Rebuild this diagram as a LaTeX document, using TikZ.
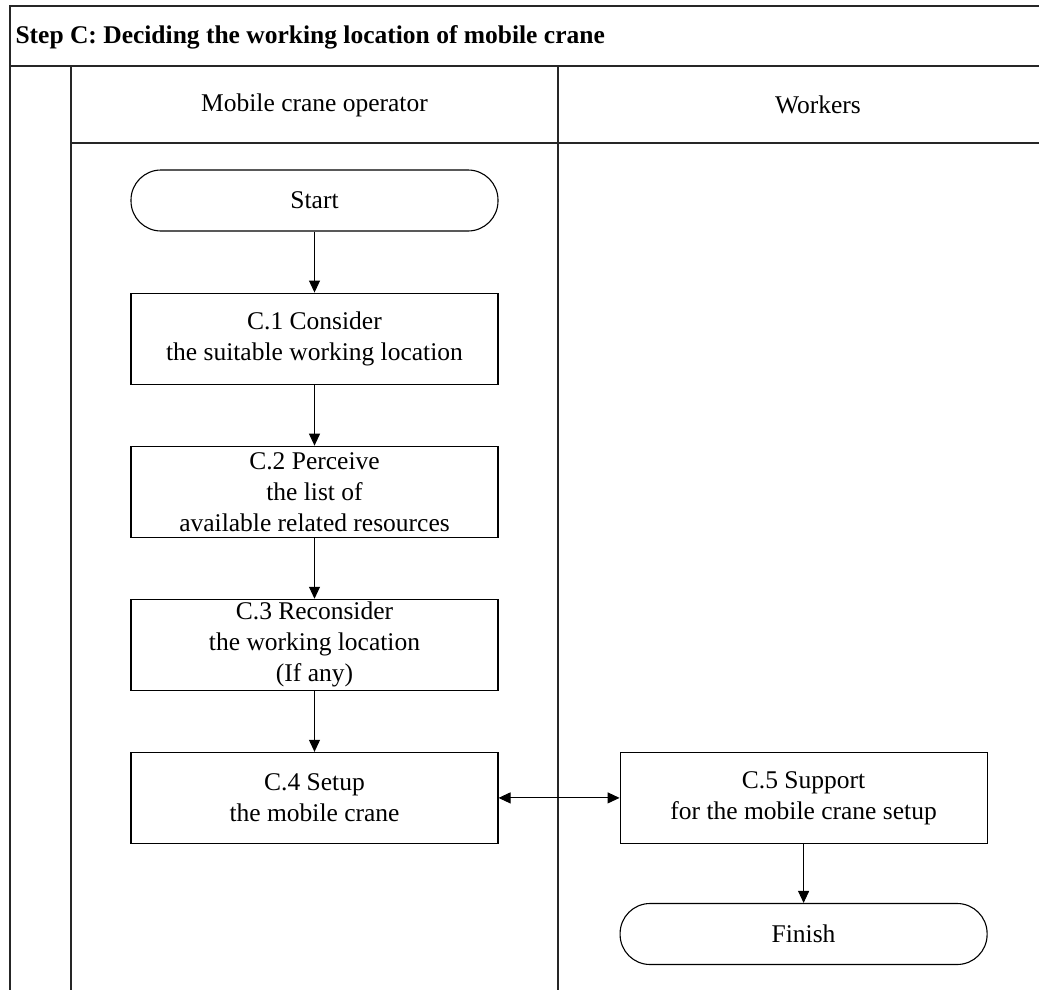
\documentclass[tikz,border=0pt]{standalone}
\usepackage{fontspec}
\setmainfont{Liberation Serif}
\usepackage{xcolor}
\usetikzlibrary{positioning}
\usetikzlibrary{arrows.meta}
\newcommand{\lanefont}{\fontsize{25.5}{31}\selectfont}
\tikzstyle{every node}=[font=\lanefont, align=center]
\tikzstyle{lane}=[draw=black!85, line width=1.6pt]
\tikzstyle{process}=[draw, line width=1.1pt, minimum width=367pt, minimum height=91pt, inner ysep=1pt]
\tikzstyle{terminal}=[draw, line width=1.1pt, rounded corners=30pt, minimum width=367pt, minimum height=61pt]
\tikzstyle{flow}=[-{Triangle[length=12pt, width=11pt]}, line width=1pt]
\tikzstyle{both}=[{Triangle[length=12pt, width=11pt]}-{Triangle[length=12pt, width=11pt]}, line width=1pt]

\begin{document}
\begin{tikzpicture}[x=1pt, y=-1pt, node distance = 61pt, auto]
    \useasboundingbox (0,0) rectangle (1039,990);

    % swimlane frame, open to the right and bottom
    \draw[lane] (10,995) |- (1045,6);
    \draw[lane] (10,66) -- (1045,66);
    \draw[lane] (71,66) -- (71,995);
    \draw[lane] (71,143) -- (1045,143);
    \draw[lane] (558,66) -- (558,995);

    \node[anchor=west, font=\lanefont\bfseries] (title) at (12,37) {Step C: Deciding the working location of mobile crane};
    \node         (operator)   at (314.5,105)             {Mobile crane operator};
    \node         (workers)    at (818,105)               {Workers};

    \node[terminal] (start)    at (314.5,200.5)           {Start};
    \node[process]  (consider)   [below = of start]       {C.1 Consider\\the suitable working location};
    \node[process]  (perceive)   [below = of consider]    {C.2 Perceive\\the list of\\available related resources};
    \node[process]  (reconsider) [below = of perceive]    {C.3 Reconsider\\the working location\\(If any)};
    \node[process]  (setup)      [below = of reconsider]  {C.4 Setup\\the mobile crane};
    \node[process]  (support)    [right = 121pt of setup] {C.5 Support\\for the mobile crane setup};
    \node[terminal] (finish)     [below = 59pt of support] {Finish};

    \draw[flow] (start)      -- (consider);
    \draw[flow] (consider)   -- (perceive);
    \draw[flow] (perceive)   -- (reconsider);
    \draw[flow] (reconsider) -- (setup);
    \draw[both] (setup)      -- (support);
    \draw[flow] (support)    -- (finish);
\end{tikzpicture}
\end{document}
